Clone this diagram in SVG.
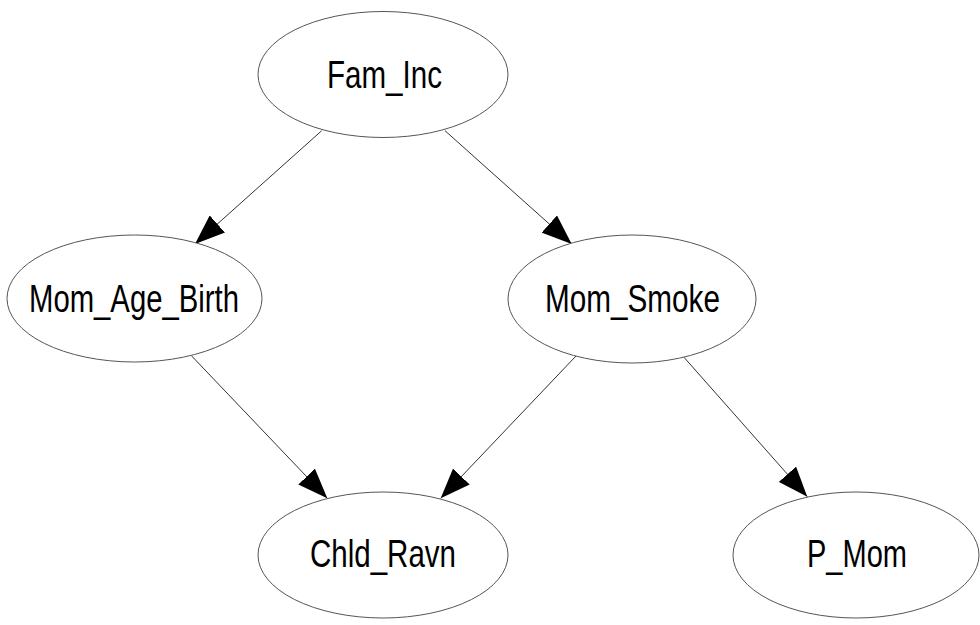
<svg xmlns="http://www.w3.org/2000/svg" width="980" height="625" viewBox="0 0 980 625">
  <style>
    .node ellipse { fill: #ffffff; stroke: #555555; stroke-width: 1; }
    .node text { font-family: "Liberation Sans", Arial, sans-serif; font-size: 39px; fill: #000000; text-anchor: middle; }
    .edge { stroke: #333333; stroke-width: 1; fill: none; marker-end: url(#arrow); }
  </style>
  <defs>
    <marker id="arrow" markerUnits="userSpaceOnUse" markerWidth="31" markerHeight="23" refX="30" refY="11.5" orient="auto" viewBox="0 0 31 23">
      <path d="M0,0 L30,11.5 L0,23 Z" fill="#000000"/>
    </marker>
  </defs>
  <rect width="980" height="625" fill="#ffffff"/>
  <g id="connectors">
    <line class="edge" x1="321.7" y1="130.7" x2="195" y2="244"/>
    <line class="edge" x1="445" y1="130.7" x2="571.7" y2="244"/>
    <line class="edge" x1="191.7" y1="356" x2="327.3" y2="498.3"/>
    <line class="edge" x1="576" y1="356" x2="440.7" y2="498.3"/>
    <line class="edge" x1="684" y1="357.3" x2="807.3" y2="496.7"/>
  </g>
  <g id="Fam_Inc" class="node">
    <ellipse cx="383" cy="74.5" rx="125" ry="63"/>
    <text x="384.5" y="88" textLength="115" lengthAdjust="spacingAndGlyphs">Fam_Inc</text>
  </g>
  <g id="Mom_Age_Birth" class="node">
    <ellipse cx="134.5" cy="298.5" rx="127.5" ry="63.5"/>
    <text x="134" y="312" textLength="210" lengthAdjust="spacingAndGlyphs">Mom_Age_Birth</text>
  </g>
  <g id="Mom_Smoke" class="node">
    <ellipse cx="632" cy="299" rx="124" ry="64"/>
    <text x="632.5" y="312" textLength="175" lengthAdjust="spacingAndGlyphs">Mom_Smoke</text>
  </g>
  <g id="Chld_Ravn" class="node">
    <ellipse cx="383" cy="555" rx="125" ry="63"/>
    <text x="383" y="567" textLength="146" lengthAdjust="spacingAndGlyphs">Chld_Ravn</text>
  </g>
  <g id="P_Mom" class="node">
    <ellipse cx="856" cy="555" rx="123" ry="63"/>
    <text x="857" y="567" textLength="100" lengthAdjust="spacingAndGlyphs">P_Mom</text>
  </g>
</svg>
